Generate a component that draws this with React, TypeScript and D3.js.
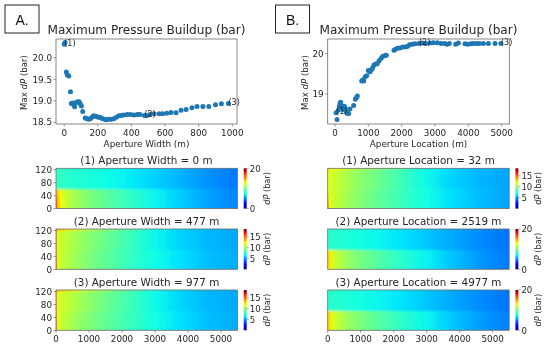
import React from 'react'
import * as d3 from 'd3'

// scatter readings: [location or width in m, max dP in bar]
const widthPoints: [number, number][] = [
  [0, 20.32], [5, 20.36], [12, 19.67], [18, 19.6], [27, 19.58], [37, 19.21], [42, 18.94], [50, 18.95],
  [58, 18.9], [62, 18.86], [70, 18.96], [80, 18.98], [88, 18.98], [95, 18.93], [102, 18.88], [110, 18.75],
  [125, 18.6], [133, 18.59], [145, 18.57], [155, 18.58], [165, 18.62], [175, 18.65], [185, 18.64], [195, 18.63],
  [205, 18.62], [215, 18.61], [225, 18.59], [240, 18.57], [250, 18.56], [265, 18.57], [280, 18.57], [295, 18.58],
  [310, 18.62], [325, 18.65], [340, 18.66], [355, 18.67], [375, 18.68], [395, 18.68], [415, 18.67], [435, 18.68],
  [450, 18.68], [477, 18.66], [490, 18.66], [510, 18.68], [535, 18.7], [565, 18.7], [585, 18.7], [610, 18.71],
  [635, 18.73], [665, 18.72], [695, 18.78], [725, 18.8], [760, 18.84], [790, 18.87], [825, 18.87], [860, 18.87],
  [900, 18.91], [935, 18.93], [977, 18.94],
]
const locationPoints: [number, number][] = [
  [32, 18.54], [60, 18.37], [100, 18.6], [130, 18.7], [150, 18.78], [170, 18.8], [190, 18.72], [220, 18.68],
  [250, 18.62], [280, 18.7], [310, 18.65], [340, 18.55], [380, 18.52], [410, 18.52], [450, 18.63], [560, 18.72],
  [610, 18.87], [650, 18.92], [670, 18.95], [800, 19.32], [830, 19.34], [860, 19.32], [900, 19.42], [950, 19.45],
  [1000, 19.58], [1050, 19.55], [1090, 19.6], [1130, 19.65], [1170, 19.72], [1220, 19.74], [1270, 19.75], [1320, 19.82],
  [1380, 19.88], [1430, 19.93], [1500, 19.95], [1540, 19.96], [1770, 20.08], [1800, 20.1], [1870, 20.13], [1950, 20.14],
  [2030, 20.16], [2120, 20.16], [2180, 20.18], [2240, 20.22], [2320, 20.23], [2400, 20.24], [2519, 20.25], [2620, 20.26],
  [2720, 20.25], [2850, 20.26], [2950, 20.27], [3070, 20.27], [3180, 20.25], [3290, 20.25], [3360, 20.23], [3430, 20.25],
  [3620, 20.23], [3700, 20.26], [3900, 20.24], [3980, 20.23], [4080, 20.24], [4150, 20.25], [4250, 20.25], [4330, 20.25],
  [4450, 20.25], [4600, 20.25], [4800, 20.25], [4977, 20.25],
]
const widthMarked = [0, 41, 58]
const locationMarked = [0, 46, 67]

// heatmap readings in bar, one row per depth band, one value per column of fieldX
const fieldX = [0, 40, 150, 400, 800, 1500, 2200, 3000, 3800, 4600, 5500]
const bandEdges = [125, 120, 60, 40, 20, 0]

const fieldA1 = [
  [8.4, 8.4, 8.3, 8.1, 7.9, 7.5, 7.1, 6.5, 5.9, 5.3, 4.8],
  [8.4, 8.4, 8.3, 8.1, 7.9, 7.5, 7.1, 6.5, 5.9, 5.3, 4.8],
  [14.5, 14, 12.8, 11.6, 10.6, 9.4, 8.4, 7.3, 6.4, 5.6, 5],
  [16, 14.4, 12.9, 11.6, 10.6, 9.4, 8.4, 7.3, 6.4, 5.6, 5],
  [17, 14.6, 12.9, 11.6, 10.6, 9.4, 8.4, 7.3, 6.4, 5.6, 5],
]
const fieldA2 = [
  [15, 13.5, 13, 12.5, 11.5, 10, 8.6, 7, 6.1, 5.6, 5.3],
  [14, 11.6, 11.2, 10.8, 10, 9, 8, 6.8, 6.1, 5.6, 5.3],
  [14, 11.6, 11.2, 10.6, 9.8, 8.8, 7.9, 7, 6.3, 5.7, 5.4],
  [15, 11.7, 11.2, 10.6, 9.8, 8.8, 7.9, 7, 6.3, 5.7, 5.4],
  [15.5, 11.7, 11.2, 10.6, 9.8, 8.8, 7.9, 7, 6.3, 5.7, 5.4],
]
const fieldA3 = [
  [14.5, 13.5, 13, 12.5, 11.6, 10.1, 8.7, 7.1, 6.1, 5.6, 5.3],
  [14, 11.7, 11.4, 11, 10.2, 9.1, 8.1, 6.9, 6.1, 5.6, 5.3],
  [14, 11.7, 11.3, 10.7, 9.9, 8.9, 8, 7.1, 6.3, 5.7, 5.4],
  [15, 11.7, 11.2, 10.6, 9.8, 8.9, 8, 7.1, 6.3, 5.7, 5.4],
  [15.5, 11.7, 11.2, 10.6, 9.8, 8.9, 8, 7.1, 6.3, 5.7, 5.4],
]
const fieldB1 = [
  [13, 12.5, 12, 11.5, 10.8, 9.6, 8.4, 7, 6, 5.5, 5.2],
  [11.8, 11.6, 11.2, 10.8, 10, 9, 8, 6.8, 6, 5.5, 5.2],
  [11.8, 11.6, 11.2, 10.7, 9.9, 8.8, 7.9, 7, 6.2, 5.6, 5.2],
  [13.5, 11.7, 11.2, 10.6, 9.8, 8.8, 7.9, 7, 6.2, 5.6, 5.2],
  [15.5, 11.8, 11.2, 10.6, 9.8, 8.8, 7.9, 7, 6.2, 5.6, 5.2],
]
const fieldB2 = [
  [8.2, 8.2, 8.1, 8, 7.7, 7.3, 6.9, 6.3, 5.7, 5.2, 4.7],
  [8.2, 8.2, 8.1, 8, 7.7, 7.3, 6.9, 6.3, 5.7, 5.2, 4.7],
  [14, 13.4, 12.4, 11.4, 10.4, 9.2, 8.2, 7.2, 6.2, 5.4, 4.8],
  [14.2, 13.4, 12.4, 11.4, 10.4, 9.2, 8.2, 7.2, 6.2, 5.4, 4.8],
  [14.2, 13.4, 12.4, 11.4, 10.4, 9.2, 8.2, 7.2, 6.2, 5.4, 4.8],
]
const fieldB3 = [
  [8.2, 8.2, 8.1, 8, 7.7, 7.3, 6.9, 6.3, 5.7, 5.2, 4.7],
  [8.2, 8.2, 8.1, 8, 7.7, 7.3, 6.9, 6.3, 5.7, 5.2, 4.7],
  [14, 13.6, 12.6, 11.5, 10.5, 9.3, 8.3, 7.3, 6.3, 5.5, 4.9],
  [14.2, 13.6, 12.6, 11.5, 10.5, 9.3, 8.3, 7.3, 6.3, 5.5, 4.9],
  [14.2, 13.6, 12.6, 11.5, 10.5, 9.3, 8.3, 7.3, 6.3, 5.5, 4.9],
]

const jetStops = [0, 0.11, 0.125, 0.34, 0.375, 0.64, 0.65, 0.66, 0.89, 0.91, 1]
const jetColors = ['#00007f', '#0000ff', '#0000ff', '#00e1ff', '#0fffe7', '#e7ff0f', '#f0ff07', '#ffea00', '#ff1e00', '#e60000', '#7f0000']
const jet = d3.scaleLinear<string>().domain(jetStops).range(jetColors).interpolate(d3.interpolateRgb)

const font = '"DejaVu Sans", sans-serif'
const ink = '#262626'
const edge = '#6b6b6b'

const wideTicks = [0, 200, 400, 600, 800, 1000]
const longTicks = [0, 1000, 2000, 3000, 4000, 5000]
const depthTicks = [0, 40, 80, 120]

function Scatter({ left, right, points, marked, xDomain, yDomain, xTicks, yTicks, yFormat, title, xLabel, titleX, yLabelX }: any) {
  const top = 39
  const bottom = 124
  const x = d3.scaleLinear().domain(xDomain).range([left, right])
  const y = d3.scaleLinear().domain(yDomain).range([bottom, top])
  const mid = (left + right) / 2
  return (
    <g fontFamily={font} fill={ink}>
      <text x={titleX} y={34} textAnchor="middle" fontSize={12.1}>{title}</text>
      {points.map((p: [number, number], i: number) => (
        <circle key={i} cx={x(p[0])} cy={y(p[1])} r={2.5} fill="#1f77b4" />
      ))}
      {marked.map((idx: number, i: number) => (
        <text key={i} x={x(points[idx][0])} y={y(points[idx][1]) + 1.5} fontSize={8}>({i + 1})</text>
      ))}
      <rect x={left} y={top} width={right - left} height={bottom - top} fill="none" stroke={edge} strokeWidth={0.8} />
      {xTicks.map((t: number) => (
        <g key={t}>
          <line x1={x(t)} x2={x(t)} y1={bottom} y2={bottom + 2.5} stroke={edge} strokeWidth={0.7} />
          <text x={x(t)} y={bottom + 12} textAnchor="middle" fontSize={8.8}>{t}</text>
        </g>
      ))}
      {yTicks.map((t: number) => (
        <g key={t}>
          <line x1={left - 2.5} x2={left} y1={y(t)} y2={y(t)} stroke={edge} strokeWidth={0.7} />
          <text x={left - 4} y={y(t) + 3.2} textAnchor="end" fontSize={8.8}>{d3.format(yFormat)(t)}</text>
        </g>
      ))}
      <text x={mid} y={146.5} textAnchor="middle" fontSize={8.9}>{xLabel}</text>
      <text transform={`translate(${yLabelX},${(top + bottom) / 2 + 1}) rotate(-90)`} textAnchor="middle" fontSize={8.6}>
        Max <tspan fontStyle="italic">dP</tspan> (bar)
      </text>
    </g>
  )
}

function Field({ id, left, top, title, titleX, values, vmax, cbTicks, showY, showX }: any) {
  const w = 181.5
  const h = 40.3
  const x = d3.scaleLinear().domain([0, 5500]).range([left, left + w])
  const y = d3.scaleLinear().domain([0, 125]).range([top + h, top])
  const color = d3.scaleLinear().domain([0, vmax]).range([0, 1])
  const cbar = d3.scaleLinear().domain([0, vmax]).range([top + h, top])
  const cbX = left + w + 6.2
  return (
    <g fontFamily={font} fill={ink}>
      <defs>
        {values.map((row: number[], r: number) => (
          <linearGradient key={r} id={`${id}-r${r}`}>
            {row.map((v, i) => (
              <stop key={i} offset={fieldX[i] / 5500} stopColor={jet(color(v))} />
            ))}
          </linearGradient>
        ))}
        <linearGradient id={`${id}-cb`} x1="0" x2="0" y1="1" y2="0">
          {jetStops.map((s, i) => <stop key={i} offset={s} stopColor={jetColors[i]} />)}
        </linearGradient>
        <clipPath id={`${id}-clip`}><rect x={left} y={top} width={w} height={h} /></clipPath>
      </defs>
      <text x={titleX} y={top - 4.5} textAnchor="middle" fontSize={10.4}>{title}</text>
      <g clipPath={`url(#${id}-clip)`}>
        <g filter="url(#soft)">
          {values.map((_: number[], r: number) => (
            <rect key={r} x={left} width={w} y={y(bandEdges[r]) - (r === 0 ? 2 : 0)}
              height={y(bandEdges[r + 1]) - y(bandEdges[r]) + 0.5 + (r === 0 ? 2 : 0) + (r === values.length - 1 ? 3 : 0)}
              fill={`url(#${id}-r${r})`} />
          ))}
        </g>
      </g>
      <rect x={left} y={top} width={w} height={h} fill="none" stroke={edge} strokeWidth={0.8} />
      {showY && depthTicks.map(t => (
        <g key={t}>
          <line x1={left - 2.5} x2={left} y1={y(t)} y2={y(t)} stroke={edge} strokeWidth={0.7} />
          <text x={left - 4} y={y(t) + 3.2} textAnchor="end" fontSize={8.8}>{t}</text>
        </g>
      ))}
      {showX && longTicks.map(t => (
        <g key={t}>
          <line x1={x(t)} x2={x(t)} y1={top + h} y2={top + h + 2.5} stroke={edge} strokeWidth={0.7} />
          <text x={x(t)} y={top + h + 12} textAnchor="middle" fontSize={8.8}>{t}</text>
        </g>
      ))}
      <rect x={cbX} y={top} width={3} height={h} fill={`url(#${id}-cb)`} />
      {cbTicks.map((t: number) => (
        <g key={t}>
          <line x1={cbX + 3} x2={cbX + 5} y1={cbar(t)} y2={cbar(t)} stroke={edge} strokeWidth={0.6} />
          <text x={cbX + 6} y={cbar(t) + 3.2} fontSize={8.6}>{t}</text>
        </g>
      ))}
      <text transform={`translate(${cbX + 26},${top + h / 2}) rotate(-90)`} textAnchor="middle" fontSize={8.2}>
        <tspan fontStyle="italic">dP</tspan> (bar)
      </text>
    </g>
  )
}

export default function App() {
  const leftA = 56
  const leftB = 327.7
  const rowTops = [168.3, 229, 290]
  return (
    <svg width={550} height={347} style={{ position: 'absolute', left: 0, top: 0, background: '#fff' }}>
      <defs>
        <filter id="soft" x="-5%" y="-20%" width="110%" height="140%">
          <feGaussianBlur stdDeviation="0.3 0.9" />
        </filter>
        <filter id="photo" x="0" y="0" width="100%" height="100%">
          <feGaussianBlur stdDeviation="0.35" />
        </filter>
      </defs>

      <g filter="url(#photo)">
        <rect x={0} y={0} width={550} height={347} fill="#fff" />
        <rect x={5} y={5} width={34} height={28} fill="#fff" stroke="#222" strokeWidth={1} />
        <text x={22} y={25} textAnchor="middle" fontFamily='"Liberation Sans", sans-serif' fontSize={14} fill="#111">A.</text>
        <rect x={275.5} y={5} width={34} height={28} fill="#fff" stroke="#222" strokeWidth={1} />
        <text x={292.5} y={25} textAnchor="middle" fontFamily='"Liberation Sans", sans-serif' fontSize={14} fill="#111">B.</text>

        <Scatter left={leftA} right={237} points={widthPoints} marked={widthMarked} xDomain={[-49, 1028]} yDomain={[18.46, 20.44]}
          xTicks={wideTicks} yTicks={[18.5, 19, 19.5, 20]} yFormat=".1f" title="Maximum Pressure Buildup (bar)" titleX={146.5} xLabel="Aperture Width (m)" yLabelX={27} />
        <Scatter left={leftB} right={509.3} points={locationPoints} marked={locationMarked} xDomain={[-219, 5228]} yDomain={[18.26, 20.36]}
          xTicks={longTicks} yTicks={[19, 20]} yFormat="d" title="Maximum Pressure Buildup (bar)" titleX={418.5} xLabel="Aperture Location (m)" yLabelX={308} />

        <Field id="a1" left={leftA} top={rowTops[0]} title="(1) Aperture Width = 0 m" titleX={146.5} values={fieldA1} vmax={20} cbTicks={[0, 20]} showY />
        <Field id="a2" left={leftA} top={rowTops[1]} title="(2) Aperture Width = 477 m" titleX={146.5} values={fieldA2} vmax={18.6} cbTicks={[5, 10, 15]} showY />
        <Field id="a3" left={leftA} top={rowTops[2]} title="(3) Aperture Width = 977 m" titleX={146.5} values={fieldA3} vmax={18.6} cbTicks={[5, 10, 15]} showY showX />
        <Field id="b1" left={leftB} top={rowTops[0]} title="(1) Aperture Location = 32 m" titleX={418.5} values={fieldB1} vmax={18.4} cbTicks={[5, 10, 15]} />
        <Field id="b2" left={leftB} top={rowTops[1]} title="(2) Aperture Location = 2519 m" titleX={418.5} values={fieldB2} vmax={20} cbTicks={[0, 20]} />
        <Field id="b3" left={leftB} top={rowTops[2]} title="(3) Aperture Location = 4977 m" titleX={418.5} values={fieldB3} vmax={20} cbTicks={[0, 20]} showX />
      </g>
    </svg>
  )
}
